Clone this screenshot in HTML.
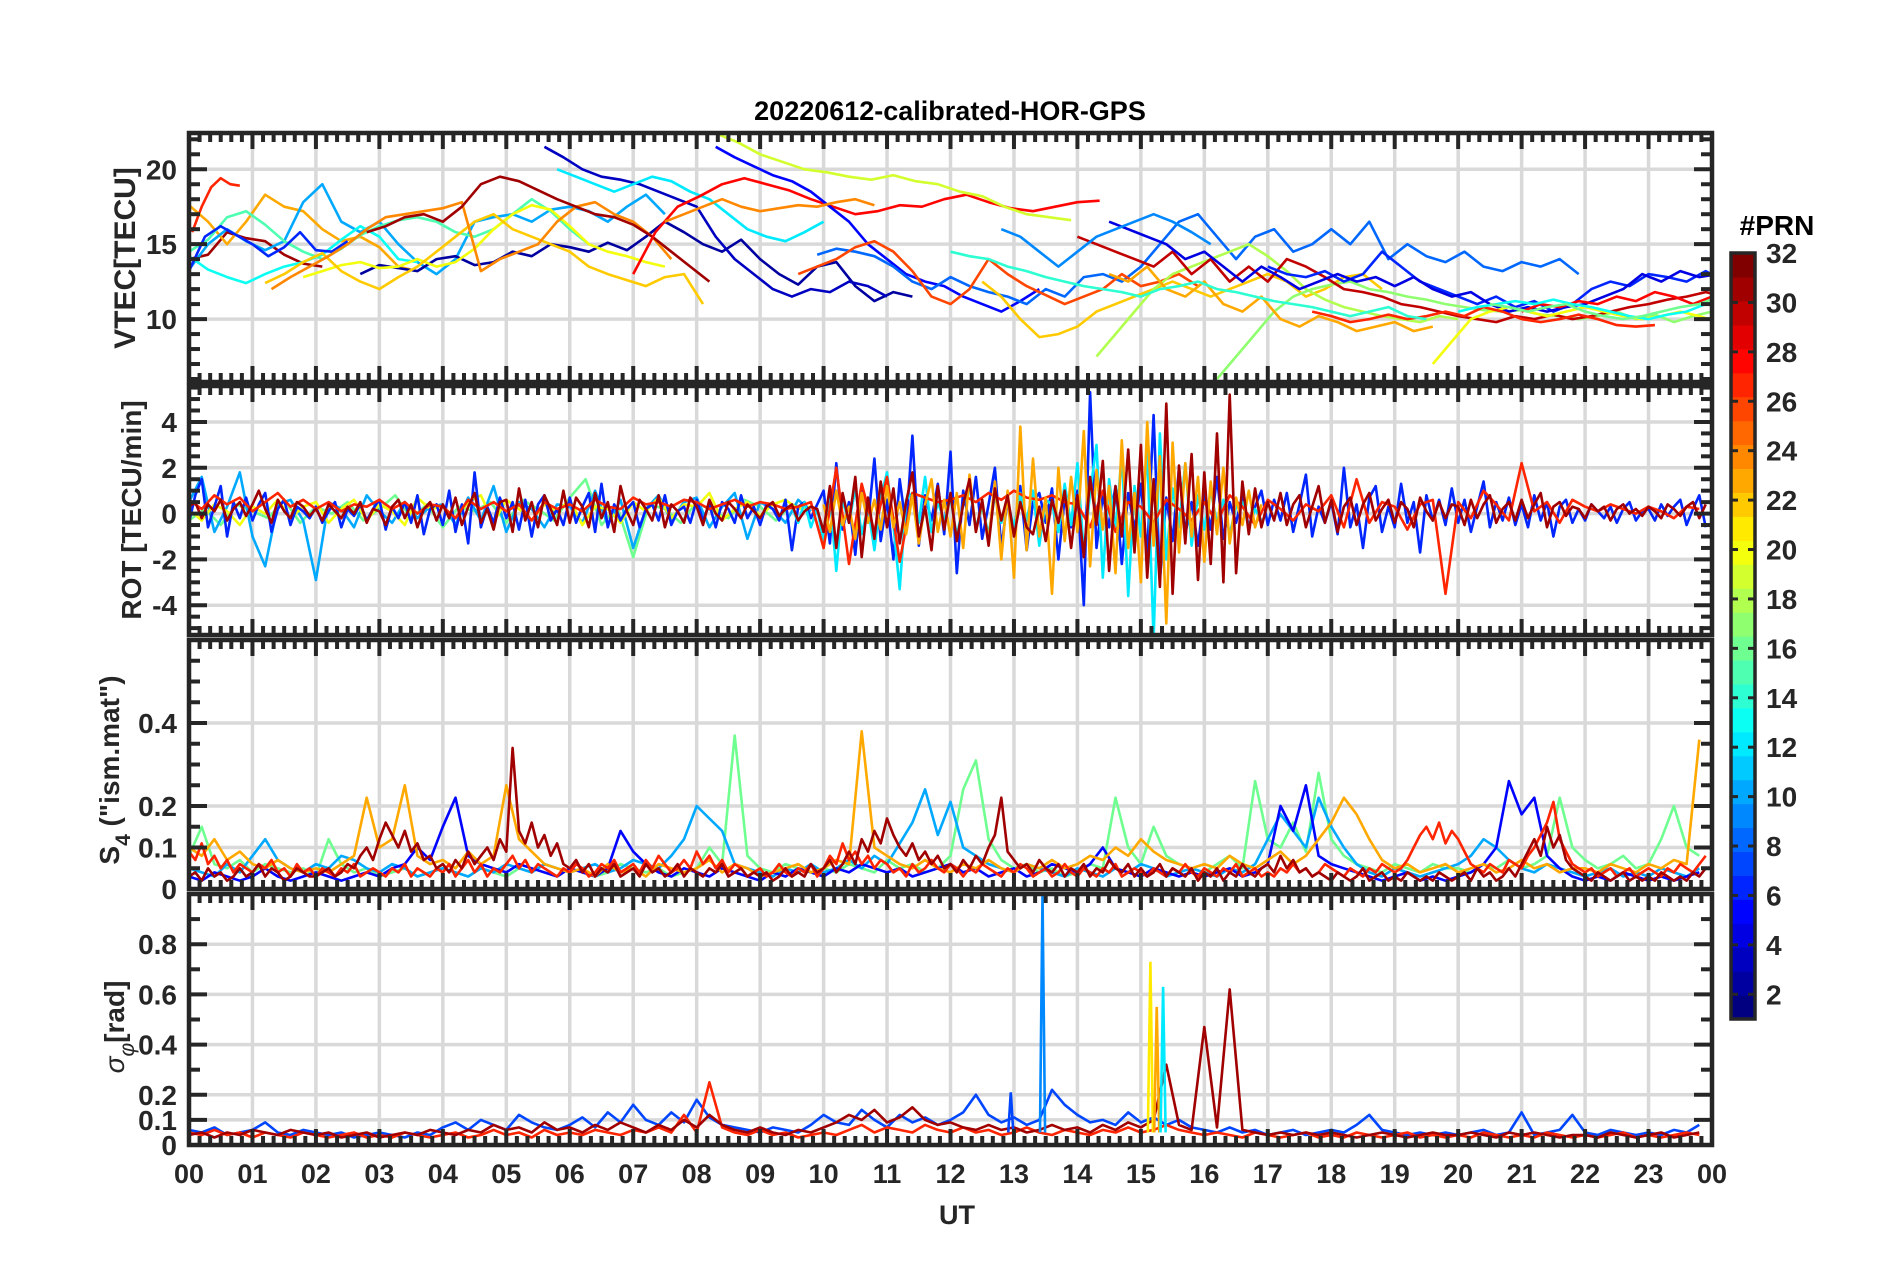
<!DOCTYPE html>
<html><head><meta charset="utf-8"><title>20220612-calibrated-HOR-GPS</title>
<style>
html,body{margin:0;padding:0;background:#fff;}
svg{display:block;font-family:"Liberation Sans",Arial,sans-serif;}
</style></head>
<body>
<svg id="fig" width="1902" height="1272" viewBox="0 0 1902 1272" xmlns="http://www.w3.org/2000/svg">
<rect width="1902" height="1272" fill="#fff"/>
<text x="950" y="120" text-anchor="middle" font-size="27" font-weight="bold" fill="#000">20220612-calibrated-HOR-GPS</text>
<text x="957" y="1224" text-anchor="middle" font-size="27" font-weight="bold" fill="#262626">UT</text>
<text transform="translate(135,258) rotate(-90)" text-anchor="middle" font-size="30" font-weight="bold" fill="#262626">VTEC[TECU]</text>
<text transform="translate(141,510) rotate(-90)" text-anchor="middle" font-size="28" font-weight="bold" fill="#262626">ROT [TECU/min]</text>
<text transform="translate(119,770) rotate(-90)" text-anchor="middle" font-size="28" font-weight="bold" fill="#262626">S<tspan dy="11" font-size="21">4</tspan><tspan dy="-11"> ("ism.mat")</tspan></text>
<text transform="translate(124,1027) rotate(-90)" text-anchor="middle" font-size="28" fill="#262626"><tspan font-style="italic">σ</tspan><tspan dy="10" font-size="21" font-style="italic">φ</tspan><tspan dy="-10" font-weight="bold">[rad]</tspan></text>
<text x="1777" y="235" text-anchor="middle" font-size="28" font-weight="bold" fill="#000">#PRN</text>
</svg>
<script>
// ---------------- DATA ----------------
const hourTicks=[0,1,2,3,4,5,6,7,8,9,10,11,12,13,14,15,16,17,18,19,20,21,22,23,24];
const hourLabels=["00","01","02","03","04","05","06","07","08","09","10","11","12","13","14","15","16","17","18","19","20","21","22","23","00"];
const vtecTicks=[10,15,20];
const rotTicks=[-4,-2,0,2,4];
const s4Ticks=[0,0.1,0.2,0.4];
const sigTicks=[0,0.1,0.2,0.4,0.6,0.8];
const cbarTicks=[2,4,6,8,10,12,14,16,18,20,22,24,26,28,30,32];

const vtecPrn=[27,31,23,10,13,15,6,2,20,22,24,31,3,12,28,19,5,8,26,22,18,17,30,6,4,20,27,28,13,16,23,14,24,9];
const vtecStart=[0.05,0,0,0,0,0,0,2.7,1.8,1.2,1.3,2.8,5.6,5.8,7,8.3,8.3,9.9,9.6,12.5,14.3,16.2,14,17,14.5,19.6,17.7,21,20,20.5,14.5,12,7.5,12.8];
const vtecStep=[0.15,0.3,0.3,0.3,0.3,0.3,0.25,0.3,0.3,0.3,0.3,0.3,0.3,0.3,0.35,0.35,0.3,0.3,0.3,0.3,0.3,0.3,0.3,0.3,0.3,0.3,0.3,0.3,0.3,0.3,0.3,0.3,0.3,0.3];
const vtecVals=[
[15.8,17.5,18.8,19.4,19.0,18.9],
[14,14.3,15.8,15.4,15.2,14.3,13.7,13.5],
[17.6,16.5,15,16.5,18.3,17.5,17.2,16,15.2,15.5,14.8,13.5,13.2],
[13.3,15,16,15.2,14.6,15.2,17.8,19,16.5,15.8,16.5,15,13.8,13,14,16.5,16.8,17,16.5,17.3,17.5,17.2,16.5,17.5,18.3,17],
[14.2,13.3,12.8,12.4,13,13.5,13.8,14.3,15.3,16.2,15.5,14,13.8],
[14.5,15.3,16.8,17.2,16.3,15.2,14.5,14,14.7,15.6,16.2,16.6,16.8,16.5,15.8,15.5,16,17,18,17.2,16,15],
[13.2,15.5,16.2,15.6,15,14.2,14.8,15.8,14.6,14.5,15.2],
[13,13.6,13.4,13.2,14,14.2,13.6,13.8,14.5,14.2,15,14.8,14.5,15.1,14.6,15.5,16.5,15.8,15,14.5,15.3,14,13,12.3,13.5,13.8,12.2,11.2,11.8,11.5],
[12.8,13.2,13.6,13.8,13.4,13.5,14,13.5,13.8,14.7,16,17,17.6,17.3,16.2,15,14.5,14.2,13.8,13.5],
[12.4,13,13.8,14.4,13.2,12.5,12,12.8,13.5,14.5,15.5,16.5,17,16,15.5,15,14.5,13.5,13,12.6,12.2,12.8,13,11],
[12,12.8,13.5,14.2,15,16,16.8,17,17.2,17.4,17.8,13.2,14,14.5,15,16.5,17.5,17.8,17,16.5,15.5,14],
[15.8,16.2,16.8,17,16.5,17.5,19,19.5,19.2,18.6,18,17.5,17,16.8,16.3,15.5,14.5,13.5,12.5],
[21.5,20.8,20,19.5,19.3,19,18.5,18,17.5,15.5,14,13,12,11.5,12,11.8,12.5,12.2,11.5],
[20,19.5,19,18.5,19,19.5,19.2,18.5,18,17,16,15.5,15.2,15.8,16.5],
[13,15.8,17.5,18.2,19,19.4,19,18.6,18,17.5,17,17.2,17.6,17.5,18,18.3,17.8,17.4,17.2,17.5,17.8,17.9],
[22.4,21.8,21,20.5,20,19.8,19.5,19.3,19.6,19.2,19,18.5,18.2,17.5,17,16.8,16.6],
[21.5,20.8,20.2,19.6,19.2,18.5,17.5,16.5,15,14,13,12.5,12.2,11.5,11,10.5,11.2,12],
[14.3,14.7,14.5,14.2,13.5,12.5,12,12.8,12.2,11.8,11.5,11,12,11.5,12.8,13,12.5,13.5,15,16.5,17,15.5,14,15.5,16,14.5,15,16,15,16.5,14,15,14.2,13.8,14.5,13.5,13.2,13.8,13.5,14,13],
[13,13.5,14,14.8,15.2,14.5,13.2,11.5,11,12,14,13,12.2,11.6,11,11.5,12,13,12.2,12.5,13,12.2],
[12.5,11.5,10,8.8,9,9.5,10.5,11,11.5,12,12.5,12,11.5,12,12.5,13,12.5,11.5,12,12.8,13,12],
[7.5,9,10.5,12,13,13.5,14,14.5,15,14.2,13.2,12,11.3,10.8,10.5,10.2,10,9.8,10.2,10],
[6,7.5,9,10.5,11.5,12,12.3,12.5,12,11.8,11.5,11.3,11,10.8,10.6,10.5,10.6,10.3,10.2,10,10.2,10.5,10,10.3,9.8,10.2,10.5,10.8,10.5,10.2,10,10.3],
[15.5,15,14.5,14,13.5,14.5,13,14,12.5,13.5,12.5,14,13.5,12.8,12,11.8,11.5,11,10.8,10.5,10.2,10,9.8,10.2,10,10.3,10,10.2,10.5,10.8,11,11.3,11.5,11.8,11.5,11.8,12,11.8,12,12.2,11.8,12,11.5,12.2,11.8,12,12.5],
[13.5,13,12.8,13.2,12.5,13,14.5,13.5,12.5,12,11.5,11,11.5,10.8,11.2,10.5,11,12,12.5,12.2,13,12.8,12.5,13.2,12.5,13,12,11.8,12.2,12.5,11.8,12,11.5,11],
[16.5,16,15.5,15,14,14.5,13.5,12.5,13.5,12.8,12,12.5,13,12.5,12.8,12.2,12.8,12,11.5,11.8,11,10.5,10.8,10.5,10.8,11,11.5,12,13,12.5,13.2,12.8,13,12.5,12,12.5,12.2,11.8,12,11.5,11.2,11,10.8,10.5,10],
[7,8.5,10,10.5,10.8,10.5,10.2,10.5,10.8,10.5,10.2,10,10.2,10.5,10.2,9.8,9.5],
[10.5,10.2,9.8,10,10.3,10,10.2,10.5,10.2,10.8,10.5,10,9.8,10,10.3,10,9.6,9.5,9.6],
[10.5,11,10.8,11.2,11,11.5,11.2,11.8,11.5,11,11.5,12,12.2,12.5],
[10.5,10.8,11,11.2,11,11.3,11,10.8,10.5,10.2,10,10.3,10.5,11,11.3,11.5],
[11,10.8,10.5,10.8,11,10.5,10.2,10,10.2,10.5,10.8,11,11.5,12,12.5],
[13,12.5,13.5,12,11.5,12.5,11,10.5,11.5,10,9.5,10.2,9.8,9.2,9.5,9.8,9.2,9.5],
[14.5,14.2,14,13.5,13.2,12.8,12.5,12.2,12,11.8,11.5,12,12.2,12.5,12,11.8,11.5,11.2,11,10.8,10.5,10.2,10.5,10.8,10.2,10],
[16.5,17,17.5,18,17.5,17.2,17.4,17.6,17.5,17.8,18,17.6],
[16,15.5,14.5,13.5,14.5,15.5,16,16.5,17,16.5,15.8,15]
];

const rotPrn=[16,10,20,6,12,27,23,31];
const rotStart=[0,0,0,0,9.5,0,10,0];
const rotStep=[0.25,0.2,0.2,0.1,0.1,0.2,0.1,0.1];
const rotVals=[
[-0.3,0.2,-0.5,0.4,0.1,-0.2,0.6,-0.4,0.3,0.0,0.5,-0.3,0.2,0.8,-0.2,0.4,-0.6,0.3,0.1,0.5,-0.4,0.6,0.2,-0.3,0.7,1.5,-0.5,0.3,-1.9,0.4,0.2,-0.4,0.5,0.1,-0.2,0.6,0.3,-0.3,0.4,0.2],
[0.5,1.6,-0.8,0.3,1.8,-1.0,-2.3,0.4,0.6,-0.3,-2.9,0.5,0.2,-0.6,0.8,0.1,-0.4,0.5,-0.2,0.3,0.4,-0.5,0.7,-0.3,1.2,-0.8,0.5,0.2,-0.6,0.4,0.3,-0.4,1.0,-0.5,0.6,-1.5,0.2,0.8,-0.3,0.5,0.7,-0.6,0.3,0.9,-1.1,0.5,0.2,-0.4,0.6,0.1],
[0.2,-0.3,0.4,0.1,-0.5,0.3,0.0,0.6,-0.2,0.3,0.5,-0.4,0.2,0.6,-0.3,0.4,0.1,-0.5,0.7,0.2,0.3,-0.2,0.5,0.8,-0.4,0.6,0.2,-0.3,0.4,0.1,0.6,-0.5,0.3,0.2,-0.4,0.5,0.1,0.7,-0.2,0.4,0.3,0.9,-0.3,0.2,0.5,-0.1,0.4,0.6,0.2,0.3],
[-0.4,0.8,1.5,-0.6,0.3,1.2,-1.0,0.5,-0.2,0.7,-0.3,0.4,0.9,-0.8,0.2,0.6,-0.5,0.3,0.1,-0.2,0.3,-0.4,0.1,0.5,-0.6,0.2,-0.1,0.4,-0.3,0.2,0.6,-0.7,0.3,-0.2,0.5,-0.4,0.8,-0.9,0.2,0.4,-0.5,1.0,-0.8,0.4,-1.3,1.8,-0.6,0.3,-0.4,0.7,-0.2,0.5,-0.7,0.6,-1.0,0.4,0.8,-0.3,0.2,-0.5,0.7,-0.4,0.3,0.9,-0.8,1.3,-0.6,0.4,-0.3,0.2,0.5,-0.6,0.2,0.4,-0.3,0.8,-0.5,0.1,0.3,-0.4,0.6,-0.3,0.4,-0.6,0.5,0.2,-0.4,0.8,-0.2,0.3,-0.5,0.4,0.2,-0.3,0.6,-1.6,0.3,0.5,-0.2,0.4,1.0,-1.3,2.2,-0.7,0.5,-1.8,1.1,-0.4,2.4,-1.2,0.6,-2.0,1.5,-0.6,3.4,-1.4,0.8,-0.3,1.3,-0.9,2.7,-2.6,1.0,-0.5,1.6,-1.1,0.4,2.0,-1.5,0.6,-0.8,1.2,-1.6,0.5,0.9,-0.4,1.1,-2.0,0.7,-0.6,1.0,-4.0,5.3,-1.5,0.8,-0.6,1.2,-2.2,0.9,-0.7,1.3,-1.8,4.3,-2.9,0.7,-1.2,2.0,-0.9,0.5,-1.4,0.9,-0.7,1.6,-1.1,0.5,-0.4,0.8,-0.6,0.3,1.0,-0.5,0.6,-0.3,0.9,-0.8,0.4,1.7,-1.0,0.3,-0.4,0.5,-0.9,2.0,-0.6,0.4,-1.5,0.7,1.2,-0.8,0.3,-0.6,1.3,-0.4,0.5,-1.7,0.8,-0.3,0.6,-0.5,1.1,-0.4,0.6,-0.8,0.3,1.4,-0.6,0.5,-0.3,0.7,-0.5,0.4,-0.6,0.8,-0.3,0.5,-1.0,0.3,0.6,-0.4,0.2,-0.3,0.4,0.1,-0.2,0.3,-0.4,0.2,0.5,-0.3,0.1,0.2,-0.3,0.4,-0.1,0.3,0.6,-0.5,0.2,0.8,-0.6],
[0.3,-0.4,0.5,-0.6,0.2,-1.2,0.8,-2.5,0.6,-0.4,1.1,-0.9,0.3,-1.6,0.7,1.8,-0.5,-3.3,0.6,0.9,-0.4,1.6,-0.8,0.5,-0.3,0.7,-1.0,0.4,1.2,-0.6,0.3,-0.9,0.8,-0.4,0.5,-0.6,0.9,-0.3,1.0,-1.4,0.6,0.4,-0.8,1.3,-0.5,2.2,-1.7,0.9,3.0,-2.8,1.5,-0.7,2.6,-3.6,1.2,-1.0,2.8,-5.5,3.5,-2.0,1.1,-0.6,2.2,-1.4,0.8,-0.7,1.0,-0.4,0.6,-0.9,0.3,0.5,-0.6,0.2,-0.3],
[0.6,0.2,0.8,0.4,0.7,0.1,0.5,0.9,0.3,0.6,0.2,0.5,0.1,0.4,0.3,0.6,0.2,0.5,0.0,0.4,0.3,-0.2,0.6,0.2,0.5,0.1,0.4,-0.3,0.5,0.2,0.4,0.1,0.6,0.3,0.2,0.7,0.4,0.5,0.3,0.6,0.5,0.2,0.4,0.6,0.3,0.5,0.4,0.2,0.3,0.5,-1.5,2.0,-2.2,1.3,-0.8,1.6,-2.1,0.9,0.7,0.5,0.6,0.8,0.5,0.9,0.6,1.0,0.7,0.6,0.8,0.5,0.4,-0.6,1.0,-0.8,0.5,0.3,-0.4,0.6,0.2,-0.3,0.5,-0.4,0.8,0.3,-0.5,0.6,0.2,-0.3,0.4,0.1,0.8,-0.6,1.5,-0.4,0.5,0.3,-0.7,0.4,0.6,-3.5,0.5,-0.2,1.0,0.4,-0.3,2.2,0.1,0.5,-0.4,0.6,0.3,0.1,0.4,0.2,0.0,0.3,0.1,-0.2,0.3,0.2],
[0.4,-0.8,1.0,-0.5,0.3,-1.1,0.9,-0.4,0.6,-0.7,1.2,-0.6,0.5,-0.9,0.8,-1.3,0.4,1.5,-0.8,0.6,-1.0,0.9,-1.5,1.7,-0.8,0.5,-1.2,1.4,-2.0,1.0,-2.8,3.8,-1.6,2.4,-1.0,0.7,-3.5,2.0,-1.2,1.6,-0.8,3.6,-2.3,1.9,-0.7,1.2,-2.6,3.2,-1.5,0.9,-3.0,4.0,-1.4,2.5,-4.8,3.1,-1.7,2.2,-1.0,1.6,-2.1,1.4,-0.9,2.0,-1.3,0.7,-0.5,1.0,-0.6,0.4],
[0.3,0.5,-0.2,0.4,0.1,0.6,-0.3,0.2,0.5,-0.1,0.4,1.0,0.2,-0.4,0.6,0.1,-0.2,0.5,0.3,-0.1,0.2,-0.3,0.4,0.1,-0.2,0.3,0.0,0.5,-0.4,0.2,0.1,-0.5,0.3,0.6,-0.2,0.4,-0.6,0.2,0.5,-0.3,0.4,-0.2,0.7,-0.5,0.3,0.9,-0.4,0.2,-0.7,0.5,0.6,-0.8,1.1,-0.3,0.5,-0.6,0.8,0.2,-0.5,1.0,-0.4,0.7,0.3,-0.6,0.9,-0.2,0.5,-0.8,1.2,0.1,-0.5,0.6,0.2,-0.3,0.8,-0.6,0.4,0.1,-0.4,0.7,0.3,-0.5,0.6,0.0,-0.3,0.5,0.2,-0.2,0.4,0.1,-0.2,0.3,0.5,-0.1,0.2,0.4,-0.3,0.1,0.3,0.2,-0.8,1.2,-1.5,0.9,-0.4,1.6,-1.9,0.7,-1.1,1.4,-0.6,1.1,-1.3,0.5,1.8,-1.0,0.3,-1.6,1.2,-0.7,0.9,-1.2,0.4,1.5,-0.8,0.6,-1.4,1.1,-0.3,0.8,-1.0,0.5,-0.6,-0.9,0.3,-1.2,0.6,-0.4,1.0,-1.5,0.8,-1.9,1.6,-0.5,2.3,-2.5,1.2,-1.0,2.8,-1.7,3.0,-2.8,1.5,-3.2,4.8,-3.5,2.1,-1.3,2.6,-2.9,1.8,-2.2,3.5,-3.0,5.2,-2.6,1.4,-0.9,1.1,-0.6,0.5,-0.3,0.9,-0.5,0.4,0.8,-0.6,0.3,1.2,-0.4,0.6,-0.8,0.3,0.7,-0.5,0.4,0.9,-0.3,0.2,0.6,-0.4,0.5,0.2,-0.6,0.7,0.1,-0.3,0.5,-0.2,0.4,0.3,-0.5,0.6,-0.2,0.4,0.8,-0.4,0.2,0.5,-0.3,0.6,-0.2,0.4,0.9,-0.6,0.3,0.5,-0.1,0.3,0.2,-0.2,0.4,0.1,0.3,-0.3,0.2,0.4,0.0,0.2,-0.1,0.3,0.1,-0.2,0.4,0.2,-0.1,0.3,0.5,-0.2,0.4]
];

const s4Prn=[16,10,5,23,27,31];
const s4Start=[0,0,0,0,0,0];
const s4Step=[0.2,0.2,0.2,0.2,0.1,0.1];
const s4Vals=[
[0.08,0.15,0.06,0.05,0.07,0.04,0.06,0.05,0.04,0.05,0.03,0.12,0.06,0.04,0.05,0.03,0.04,0.05,0.03,0.04,0.05,0.04,0.03,0.05,0.04,0.03,0.05,0.04,0.06,0.05,0.04,0.05,0.03,0.04,0.06,0.05,0.04,0.05,0.03,0.04,0.05,0.10,0.06,0.37,0.08,0.05,0.04,0.06,0.05,0.04,0.05,0.04,0.06,0.05,0.04,0.07,0.05,0.06,0.04,0.05,0.08,0.24,0.31,0.12,0.07,0.05,0.06,0.04,0.05,0.03,0.04,0.06,0.05,0.22,0.10,0.06,0.15,0.08,0.06,0.05,0.04,0.06,0.08,0.05,0.26,0.12,0.10,0.16,0.09,0.28,0.12,0.08,0.06,0.05,0.04,0.06,0.05,0.04,0.06,0.05,0.05,0.04,0.06,0.05,0.07,0.05,0.06,0.08,0.22,0.10,0.07,0.05,0.06,0.08,0.05,0.06,0.12,0.20,0.10,0.08],
[0.05,0.04,0.03,0.06,0.04,0.08,0.12,0.07,0.05,0.04,0.06,0.05,0.08,0.07,0.05,0.04,0.06,0.05,0.03,0.04,0.05,0.04,0.03,0.05,0.04,0.06,0.05,0.04,0.06,0.05,0.04,0.05,0.06,0.04,0.05,0.07,0.06,0.05,0.08,0.12,0.20,0.17,0.14,0.06,0.05,0.04,0.03,0.05,0.04,0.06,0.04,0.05,0.07,0.05,0.08,0.06,0.11,0.16,0.24,0.13,0.21,0.10,0.08,0.06,0.05,0.04,0.06,0.05,0.04,0.03,0.05,0.04,0.03,0.05,0.04,0.06,0.05,0.03,0.04,0.05,0.04,0.03,0.05,0.04,0.06,0.12,0.18,0.14,0.10,0.22,0.15,0.10,0.06,0.04,0.03,0.05,0.04,0.03,0.04,0.05,0.06,0.08,0.12,0.10,0.07,0.05,0.04,0.06,0.05,0.04,0.03,0.04,0.05,0.03,0.04,0.03,0.05,0.04,0.03,0.05],
[0.03,0.02,0.04,0.03,0.02,0.03,0.05,0.03,0.02,0.03,0.04,0.03,0.02,0.03,0.04,0.03,0.05,0.06,0.10,0.07,0.15,0.22,0.08,0.06,0.05,0.04,0.06,0.05,0.04,0.03,0.05,0.04,0.03,0.05,0.14,0.09,0.06,0.04,0.03,0.05,0.04,0.03,0.05,0.04,0.03,0.02,0.04,0.03,0.05,0.04,0.03,0.05,0.04,0.06,0.05,0.04,0.05,0.03,0.04,0.05,0.06,0.04,0.05,0.03,0.04,0.05,0.03,0.04,0.06,0.05,0.04,0.06,0.10,0.05,0.04,0.03,0.05,0.04,0.03,0.04,0.03,0.04,0.05,0.03,0.04,0.06,0.20,0.14,0.25,0.08,0.06,0.05,0.04,0.03,0.02,0.03,0.04,0.02,0.03,0.02,0.03,0.04,0.06,0.10,0.26,0.18,0.22,0.08,0.05,0.03,0.02,0.03,0.02,0.04,0.03,0.02,0.03,0.02,0.03,0.04],
[0.10,0.08,0.12,0.07,0.09,0.06,0.05,0.07,0.05,0.04,0.05,0.04,0.06,0.08,0.22,0.10,0.12,0.25,0.08,0.06,0.07,0.05,0.09,0.06,0.08,0.25,0.12,0.09,0.06,0.05,0.04,0.05,0.03,0.06,0.04,0.05,0.03,0.06,0.05,0.04,0.05,0.07,0.04,0.06,0.05,0.03,0.04,0.05,0.06,0.04,0.05,0.07,0.06,0.38,0.10,0.08,0.06,0.05,0.07,0.05,0.04,0.06,0.05,0.07,0.05,0.04,0.06,0.05,0.07,0.05,0.06,0.08,0.07,0.10,0.08,0.12,0.09,0.07,0.06,0.05,0.06,0.05,0.08,0.06,0.05,0.07,0.09,0.06,0.08,0.12,0.16,0.22,0.18,0.12,0.07,0.05,0.06,0.04,0.05,0.06,0.04,0.05,0.06,0.04,0.05,0.07,0.05,0.06,0.04,0.05,0.05,0.04,0.06,0.05,0.04,0.06,0.05,0.07,0.06,0.36],
[0.09,0.07,0.11,0.06,0.08,0.05,0.07,0.04,0.06,0.05,0.04,0.06,0.05,0.07,0.04,0.05,0.03,0.06,0.04,0.05,0.03,0.05,0.04,0.03,0.05,0.04,0.06,0.03,0.04,0.05,0.04,0.03,0.05,0.04,0.06,0.03,0.05,0.04,0.03,0.05,0.04,0.06,0.03,0.05,0.07,0.04,0.06,0.03,0.05,0.04,0.06,0.08,0.05,0.07,0.04,0.06,0.05,0.04,0.03,0.05,0.04,0.06,0.05,0.03,0.04,0.06,0.05,0.07,0.04,0.05,0.06,0.04,0.07,0.05,0.08,0.06,0.04,0.05,0.07,0.05,0.09,0.06,0.08,0.05,0.07,0.04,0.06,0.05,0.03,0.04,0.05,0.03,0.04,0.06,0.04,0.03,0.05,0.04,0.06,0.03,0.05,0.08,0.06,0.11,0.07,0.09,0.06,0.08,0.05,0.07,0.06,0.04,0.05,0.03,0.06,0.04,0.05,0.07,0.05,0.04,0.06,0.05,0.03,0.05,0.04,0.06,0.05,0.04,0.03,0.05,0.04,0.06,0.05,0.03,0.04,0.05,0.03,0.04,0.06,0.04,0.03,0.05,0.04,0.03,0.05,0.04,0.06,0.03,0.04,0.05,0.04,0.03,0.05,0.04,0.03,0.05,0.04,0.06,0.04,0.03,0.05,0.04,0.03,0.05,0.04,0.06,0.03,0.04,0.05,0.03,0.04,0.03,0.05,0.04,0.06,0.04,0.05,0.03,0.04,0.06,0.05,0.04,0.03,0.05,0.04,0.03,0.05,0.04,0.06,0.05,0.04,0.05,0.07,0.10,0.13,0.15,0.12,0.16,0.11,0.14,0.12,0.09,0.06,0.05,0.04,0.06,0.05,0.04,0.07,0.06,0.05,0.08,0.10,0.13,0.16,0.21,0.12,0.09,0.06,0.05,0.04,0.05,0.03,0.04,0.05,0.03,0.04,0.05,0.03,0.04,0.05,0.04,0.03,0.05,0.04,0.06,0.05,0.04,0.06,0.08],
[0.03,0.04,0.02,0.05,0.03,0.04,0.02,0.03,0.05,0.03,0.04,0.06,0.03,0.05,0.04,0.02,0.03,0.05,0.04,0.03,0.03,0.04,0.05,0.03,0.04,0.06,0.05,0.08,0.10,0.07,0.12,0.16,0.13,0.10,0.14,0.09,0.11,0.07,0.08,0.05,0.06,0.04,0.07,0.05,0.09,0.06,0.08,0.10,0.07,0.12,0.09,0.34,0.14,0.11,0.16,0.10,0.13,0.08,0.11,0.06,0.05,0.07,0.04,0.06,0.03,0.05,0.04,0.06,0.03,0.04,0.05,0.03,0.06,0.04,0.05,0.03,0.04,0.06,0.03,0.05,0.04,0.03,0.05,0.04,0.06,0.03,0.04,0.05,0.03,0.04,0.03,0.04,0.02,0.03,0.05,0.03,0.04,0.03,0.06,0.04,0.05,0.07,0.04,0.06,0.09,0.06,0.12,0.09,0.14,0.11,0.17,0.13,0.10,0.08,0.11,0.07,0.09,0.06,0.08,0.05,0.06,0.04,0.07,0.05,0.08,0.06,0.10,0.13,0.22,0.09,0.07,0.05,0.06,0.04,0.07,0.05,0.04,0.06,0.03,0.05,0.04,0.06,0.03,0.05,0.04,0.07,0.05,0.04,0.06,0.03,0.05,0.03,0.04,0.06,0.03,0.05,0.04,0.03,0.05,0.02,0.04,0.03,0.05,0.02,0.04,0.03,0.06,0.04,0.03,0.05,0.06,0.04,0.08,0.05,0.07,0.04,0.05,0.03,0.04,0.03,0.02,0.04,0.03,0.02,0.03,0.05,0.02,0.03,0.04,0.02,0.03,0.02,0.04,0.03,0.02,0.03,0.02,0.04,0.03,0.02,0.03,0.04,0.02,0.05,0.03,0.04,0.02,0.03,0.05,0.03,0.06,0.09,0.12,0.08,0.15,0.10,0.13,0.07,0.05,0.04,0.03,0.02,0.04,0.03,0.02,0.03,0.04,0.02,0.03,0.02,0.03,0.02,0.04,0.03,0.02,0.03,0.02,0.04,0.03,0.05]
];

const sigPrn=[7,27,31];
const sigStart=[0,0,0];
const sigStep=[0.2,0.2,0.2];
const sigVals=[
[0.06,0.05,0.07,0.04,0.05,0.06,0.09,0.05,0.04,0.06,0.05,0.04,0.05,0.03,0.04,0.05,0.04,0.03,0.05,0.04,0.07,0.09,0.06,0.10,0.08,0.06,0.12,0.09,0.07,0.06,0.08,0.11,0.07,0.13,0.09,0.16,0.10,0.08,0.13,0.09,0.18,0.11,0.08,0.07,0.06,0.05,0.07,0.06,0.05,0.08,0.12,0.09,0.08,0.14,0.10,0.07,0.12,0.09,0.11,0.08,0.10,0.13,0.20,0.12,0.09,0.11,0.08,0.10,0.22,0.16,0.12,0.09,0.10,0.08,0.13,0.09,0.11,0.08,0.10,0.07,0.06,0.05,0.07,0.05,0.06,0.04,0.05,0.06,0.04,0.05,0.06,0.05,0.08,0.12,0.06,0.05,0.04,0.05,0.04,0.05,0.04,0.05,0.06,0.04,0.05,0.13,0.04,0.05,0.06,0.12,0.05,0.04,0.06,0.05,0.04,0.05,0.04,0.06,0.05,0.08],
[0.05,0.04,0.06,0.04,0.05,0.03,0.05,0.04,0.03,0.05,0.04,0.03,0.04,0.05,0.03,0.04,0.03,0.05,0.04,0.03,0.04,0.05,0.03,0.04,0.06,0.04,0.05,0.03,0.06,0.04,0.05,0.04,0.06,0.05,0.04,0.06,0.05,0.07,0.05,0.12,0.05,0.25,0.07,0.05,0.04,0.06,0.04,0.05,0.03,0.04,0.05,0.04,0.06,0.08,0.05,0.07,0.06,0.05,0.08,0.06,0.05,0.07,0.05,0.06,0.04,0.05,0.07,0.05,0.04,0.06,0.05,0.04,0.06,0.05,0.07,0.05,0.06,0.08,0.06,0.05,0.04,0.05,0.04,0.03,0.05,0.04,0.03,0.04,0.05,0.03,0.04,0.03,0.05,0.04,0.03,0.04,0.05,0.03,0.04,0.03,0.04,0.03,0.05,0.04,0.03,0.04,0.03,0.05,0.04,0.03,0.04,0.03,0.04,0.05,0.03,0.04,0.03,0.04,0.05,0.04],
[0.04,0.05,0.03,0.05,0.04,0.06,0.05,0.04,0.06,0.05,0.04,0.05,0.03,0.04,0.05,0.03,0.04,0.05,0.04,0.06,0.05,0.04,0.06,0.05,0.08,0.06,0.07,0.05,0.09,0.06,0.07,0.05,0.08,0.06,0.09,0.07,0.05,0.08,0.06,0.10,0.07,0.12,0.08,0.06,0.05,0.07,0.05,0.04,0.06,0.05,0.07,0.09,0.12,0.10,0.14,0.09,0.11,0.15,0.10,0.08,0.09,0.07,0.06,0.08,0.06,0.07,0.05,0.06,0.08,0.06,0.07,0.05,0.08,0.06,0.09,0.07,0.10,0.32,0.08,0.06,0.47,0.07,0.62,0.06,0.05,0.04,0.05,0.04,0.05,0.04,0.05,0.04,0.03,0.04,0.05,0.04,0.03,0.04,0.05,0.04,0.04,0.05,0.04,0.03,0.05,0.04,0.05,0.04,0.03,0.04,0.04,0.03,0.05,0.04,0.03,0.04,0.05,0.03,0.04,0.05]
];
const sigSpikeT=[12.95,13.45,15.15,15.25,15.35];
const sigSpikeV=[0.21,1.0,0.73,0.55,0.63];
const sigSpikePrn=[7,9,21,23,12];
const sigSpikeHalfWidth=0.04;

// ---------------- LAYOUT ----------------
const NS="http://www.w3.org/2000/svg";
const svg=document.getElementById("fig");
const AX_L=189, AX_R=1712;
const panels=[
 {name:"vtec",top:133,bot:382,min:5.8,max:22.42,ticks:vtecTicks,grid:vtecTicks,minor:1,labelFmt:v=>String(v)},
 {name:"rot",top:386,bot:635,min:-5.3,max:5.57,ticks:rotTicks,grid:rotTicks,minor:0.5,labelFmt:v=>String(v)},
 {name:"s4",top:640,bot:889,min:0,max:0.6,ticks:s4Ticks,grid:[0.1,0.2,0.4],minor:0.05,labelFmt:v=>v===0?"0":String(v)},
 {name:"sigma",top:894,bot:1145,min:0,max:1.0,ticks:sigTicks,grid:[0.1,0.2,0.4,0.6,0.8],minor:0.1,labelFmt:v=>v===0?"0":String(v)}
];
function xs(t){return AX_L+(t/24)*(AX_R-AX_L);}
function mkY(p){return v=>p.bot-(v-p.min)/(p.max-p.min)*(p.bot-p.top);}
function jet(prn){
 const f=(prn-1)/31;
 const c=x=>Math.max(0,Math.min(1,x));
 const r=c(1.5-Math.abs(4*f-3)),g=c(1.5-Math.abs(4*f-2)),b=c(1.5-Math.abs(4*f-1));
 return "rgb("+Math.round(r*255)+","+Math.round(g*255)+","+Math.round(b*255)+")";
}
function el(tag,attrs,parent){
 const e=document.createElementNS(NS,tag);
 for(const k in attrs)e.setAttribute(k,attrs[k]);
 (parent||svg).appendChild(e);
 return e;
}
const defs=el("defs",{});

function drawSeries(p,ys,g,prns,starts,steps,vals,nm){
 for(let s=0;s<vals.length;s++){
  let d="";
  for(let i=0;i<vals[s].length;i++){
   d+=(i?"L":"M")+xs(starts[s]+i*steps[s]).toFixed(1)+","+ys(vals[s][i]).toFixed(1);
  }
  const path=el("path",{d:d,fill:"none",stroke:jet(prns[s]),"stroke-width":2.6,"stroke-linejoin":"round"},g);
  
  
 }
}

panels.forEach((p,pi)=>{
 const ys=mkY(p);
 const grp=el("g",{});
 
 
 const cp=el("clipPath",{id:"clip"+pi},defs);
 el("rect",{x:AX_L,y:p.top,width:AX_R-AX_L,height:p.bot-p.top},cp);
 const gg=el("g",{stroke:"#d9d9d9","stroke-width":3.5},grp);
 
 
 hourTicks.forEach(h=>{ if(h>0&&h<24) el("line",{x1:xs(h),x2:xs(h),y1:p.top,y2:p.bot},gg); });
 p.grid.forEach(v=>{ el("line",{x1:AX_L,x2:AX_R,y1:ys(v),y2:ys(v)},gg); });
 const dg=el("g",{"clip-path":"url(#clip"+pi+")"},grp);
 
 
 if(p.name==="vtec") drawSeries(p,ys,dg,vtecPrn,vtecStart,vtecStep,vtecVals,"vtec");
 if(p.name==="rot") drawSeries(p,ys,dg,rotPrn,rotStart,rotStep,rotVals,"rot");
 if(p.name==="s4") drawSeries(p,ys,dg,s4Prn,s4Start,s4Step,s4Vals,"s4");
 if(p.name==="sigma"){
  drawSeries(p,ys,dg,sigPrn,sigStart,sigStep,sigVals,"sigma");
  for(let k=0;k<sigSpikeT.length;k++){
   const d="M"+xs(sigSpikeT[k]-sigSpikeHalfWidth)+","+ys(0.05)+"L"+xs(sigSpikeT[k])+","+ys(sigSpikeV[k])+"L"+xs(sigSpikeT[k]+sigSpikeHalfWidth)+","+ys(0.05);
   const sp=el("path",{d:d,fill:"none",stroke:jet(sigSpikePrn[k]),"stroke-width":2.6},dg);
   
   
  }
 }
 const tg=el("g",{stroke:"#262626","stroke-width":4},grp);
 
 
 for(let m=0;m<=24*6;m++){
  const x=xs(m/6), len=(m%6===0)?16:9;
  el("line",{x1:x,x2:x,y1:p.top,y2:p.top+len},tg);
  el("line",{x1:x,x2:x,y1:p.bot,y2:p.bot-len},tg);
 }
 const start=Math.ceil(p.min/p.minor-1e-9);
 for(let k=start;k*p.minor<=p.max+1e-9;k++){
  const v=k*p.minor;
  const major=p.ticks.some(t=>Math.abs(t-v)<1e-9);
  const len=major?18:11;
  el("line",{x1:AX_L,x2:AX_L+len,y1:ys(v),y2:ys(v)},tg);
  el("line",{x1:AX_R,x2:AX_R-len,y1:ys(v),y2:ys(v)},tg);
 }
 p.ticks.forEach(v=>{
  const t=el("text",{x:AX_L-12,y:ys(v)+10,"text-anchor":"end","font-size":28,"font-weight":"bold",fill:"#262626"},grp);
  t.textContent=p.labelFmt(v);
  
  
 });
 const fr=el("rect",{x:AX_L,y:p.top,width:AX_R-AX_L,height:p.bot-p.top,fill:"none",stroke:"#262626","stroke-width":4.5},grp);
 
 
});

hourTicks.forEach((h,i)=>{
 const t=el("text",{x:xs(h),y:1183,"text-anchor":"middle","font-size":27,"font-weight":"bold",fill:"#262626"});
 t.textContent=hourLabels[i];
 
 
});

const CB_L=1731, CB_R=1755, CB_T=253, CB_B=1019, CB_MIN=1, CB_MAX=32;
function cy(v){return CB_B-(v-CB_MIN)/(CB_MAX-CB_MIN)*(CB_B-CB_T);}
const cbg=el("g",{});


const bh=(CB_B-CB_T)/32;
for(let k=1;k<=32;k++){
 const r=el("rect",{x:CB_L,y:CB_B-k*bh,width:CB_R-CB_L,height:bh+0.6,fill:jet(k)},cbg);
 
 
}
const cbf=el("rect",{x:CB_L,y:CB_T,width:CB_R-CB_L,height:CB_B-CB_T,fill:"none",stroke:"#262626","stroke-width":3.5},cbg);


cbarTicks.forEach(v=>{
 el("line",{x1:CB_L,x2:CB_L+7,y1:cy(v),y2:cy(v),stroke:"#262626","stroke-width":3},cbg);
 el("line",{x1:CB_R,x2:CB_R-7,y1:cy(v),y2:cy(v),stroke:"#262626","stroke-width":3},cbg);
 const t=el("text",{x:CB_R+11,y:cy(v)+10,"font-size":28,"font-weight":"bold",fill:"#262626"},cbg);
 t.textContent=String(v);
 
 
});
</script>
</body></html>
